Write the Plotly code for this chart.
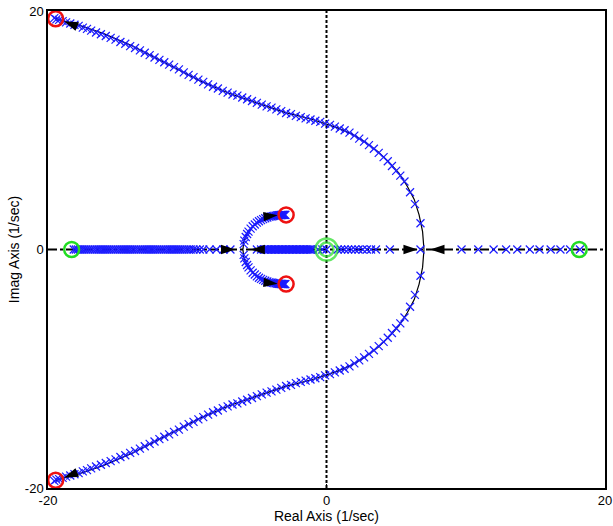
import plotly.graph_objects as go

# ---------------------------------------------------------------
# Root locus data
# ---------------------------------------------------------------

# large complex branch (upper half), from the breakaway point on the real axis to the pole
big_line_x = [7.0, 6.9, 6.65, 6.3, 5.8, 5.2, 4.5, 3.7, 2.8, 1.8, 0.8, 0.0, -1.0, -2.0, -3.0,
              -4.0, -5.0, -6.0, -7.0, -8.0, -9.0, -10.0, -11.0, -12.0, -13.0, -14.0, -15.0,
              -16.0, -17.0, -18.0, -19.0, -19.5]
big_line_y = [0.0, 1.5, 2.9, 4.2, 5.3, 6.4, 7.3, 8.2, 9.0, 9.7, 10.2, 10.5, 10.9, 11.2, 11.5,
              11.9, 12.3, 12.7, 13.1, 13.6, 14.1, 14.7, 15.3, 15.9, 16.5, 17.1, 17.6,
              18.1, 18.5, 18.9, 19.2, 19.4]

big_mark_x = [6.75, 6.35, 6.0, 5.6, 5.3, 5.0, 4.7, 4.4, 4.1, 3.75, 3.4, 3.05, 2.7, 2.35, 2.0,
              1.65, 1.3, 0.95, 0.6, 0.25, -0.1, -0.45, -0.8, -1.15, -1.5, -1.85, -2.2, -2.55,
              -2.9, -3.25, -3.6, -3.95, -4.3, -4.65, -5.0, -5.35, -5.7, -6.05, -6.4, -6.75,
              -7.1, -7.45, -7.8, -8.15, -8.5, -8.85, -9.2, -9.55, -9.9, -10.25, -10.6, -10.95,
              -11.3, -11.65, -12.0, -12.35, -12.7, -13.05, -13.4, -13.75, -14.1, -14.45, -14.8,
              -15.15, -15.5, -15.85, -16.2, -16.55, -16.9, -17.2, -17.5, -17.8, -18.1, -18.4,
              -18.7, -18.95, -19.2, -19.4, -19.55]
big_mark_y = [2.2, 3.8, 4.8, 5.7, 6.2, 6.6, 7.0, 7.4, 7.75, 8.1, 8.45, 8.75, 9.05, 9.3, 9.55,
              9.8, 10.0, 10.15, 10.3, 10.45, 10.55, 10.7, 10.8, 10.9, 11.0, 11.1, 11.2, 11.35,
              11.45, 11.6, 11.75, 11.9, 12.0, 12.15, 12.3, 12.45, 12.6, 12.75, 12.9, 13.0,
              13.15, 13.3, 13.5, 13.65, 13.85, 14.05, 14.25, 14.45, 14.65, 14.85, 15.1, 15.3,
              15.5, 15.7, 15.9, 16.1, 16.3, 16.5, 16.7, 16.9, 17.05, 17.25, 17.4,
              17.6, 17.75, 17.9, 18.05, 18.2, 18.35, 18.5, 18.6, 18.75, 18.85, 18.95,
              19.05, 19.15, 19.25, 19.3, 19.4]

# small complex branch (upper half), from the breakaway point at -6 to the pole
arc_line_x = [-6.0, -5.95, -5.8, -5.6, -5.3, -5.0, -4.6, -4.2, -3.8, -3.4, -2.9]
arc_line_y = [0.0, 0.6, 1.1, 1.5, 1.9, 2.2, 2.45, 2.62, 2.75, 2.84, 2.9]
arc_mark_x = [-5.95, -5.9, -5.8, -5.7, -5.6, -5.45, -5.3, -5.15, -5.0, -4.85, -4.7, -4.55,
              -4.4, -4.25, -4.1, -3.95, -3.85, -3.75, -3.65, -3.55, -3.48, -3.42, -3.36,
              -3.3, -3.25, -3.2, -3.15, -3.1, -3.05, -3.0, -2.95]
arc_mark_y = [0.45, 0.75, 1.05, 1.3, 1.5, 1.75, 1.95, 2.1, 2.25, 2.37, 2.47, 2.55,
              2.62, 2.68, 2.73, 2.77, 2.8, 2.82, 2.84, 2.85, 2.86, 2.87, 2.88,
              2.88, 2.89, 2.89, 2.9, 2.9, 2.9, 2.9, 2.9]

# locus points lying on the real axis
real_mark_x = [-18.15, -18.0, -17.85, -17.7, -17.55, -17.4, -17.25, -17.1, -16.95, -16.8,
               -16.65, -16.5, -16.35, -16.2, -16.05, -15.9, -15.75, -15.6, -15.45, -15.3,
               -15.15, -15.0, -14.85, -14.7, -14.55, -14.4, -14.25, -14.1, -13.95, -13.8,
               -13.65, -13.5, -13.35, -13.2, -13.05, -12.9, -12.75, -12.6, -12.45, -12.3,
               -12.15, -12.0, -11.85, -11.7, -11.55, -11.4, -11.25, -11.1, -10.95, -10.8,
               -10.65, -10.5, -10.35, -10.2, -10.05, -9.9, -9.75, -9.55, -9.35, -9.1,
               -8.85, -8.4, -7.9, -7.4, -6.9,
               -5.0, -4.7, -4.5, -4.4, -4.3, -4.2, -4.1, -4.0, -3.9, -3.8, -3.7, -3.6, -3.5,
               -3.4, -3.3, -3.2, -3.1, -3.0, -2.9, -2.8, -2.7, -2.6, -2.5, -2.4, -2.3, -2.2,
               -2.1, -2.0, -1.9, -1.8, -1.7, -1.6, -1.5, -1.4, -1.3, -1.2, -1.1, -1.0,
               -0.6, -0.3, 0.0,
               0.8, 1.05, 1.3, 1.55, 1.8, 2.05, 2.3, 2.6, 2.9, 3.2, 3.55, 4.55, 6.75,
               9.7, 10.9, 12.0, 12.9, 13.7, 14.6, 15.3, 16.1, 16.8, 17.5, 18.2]

# poles (red) and zeros (green)
pole_x = [-19.45, -19.45, -2.9, -2.9]
pole_y = [19.35, -19.35, 2.9, -2.9]
zero_x = [-18.3, 18.15]
zero_y = [0.0, 0.0]
origin_x = [0.0]
origin_y = [0.0]

# direction arrows
arrow_x = [-18.85, -18.85, -3.5, -3.5, -6.55, -5.45, 6.55, 7.45]
arrow_y = [19.15, -19.15, 2.87, -2.87, 0.0, 0.0, 0.0, 0.0]
arrow_angle = [-68, -112, 85, 95, 90, -90, 90, -90]

BLUE = "#1a1aff"
fig = go.Figure()

# axis guide lines
fig.add_trace(go.Scatter(x=[-20, 20], y=[0, 0], mode="lines",
                         line=dict(color="black", width=2, dash="dashdot"), hoverinfo="skip"))
fig.add_trace(go.Scatter(x=[0, 0], y=[-20, 20], mode="lines",
                         line=dict(color="black", width=2, dash="3px,2px"), hoverinfo="skip"))

# locus lines (upper and lower = conjugates)
for sgn in (1, -1):
    fig.add_trace(go.Scatter(x=big_line_x, y=[sgn * v for v in big_line_y], mode="lines",
                             line=dict(color="black", width=1.2), hoverinfo="skip"))
    fig.add_trace(go.Scatter(x=arc_line_x, y=[sgn * v for v in arc_line_y], mode="lines",
                             line=dict(color="black", width=1.2), hoverinfo="skip"))

# blue locus samples
xmark = dict(symbol="x-thin", size=8, line=dict(color=BLUE, width=1.2), color=BLUE)
for sgn in (1, -1):
    fig.add_trace(go.Scatter(x=big_mark_x, y=[sgn * v for v in big_mark_y], mode="markers",
                             marker=xmark))
    fig.add_trace(go.Scatter(x=arc_mark_x, y=[sgn * v for v in arc_mark_y], mode="markers",
                             marker=xmark))
fig.add_trace(go.Scatter(x=real_mark_x, y=[0] * len(real_mark_x), mode="markers", marker=xmark))

# arrowheads
fig.add_trace(go.Scatter(x=arrow_x, y=arrow_y, mode="markers",
                         marker=dict(symbol="arrow", size=15, angle=arrow_angle, color="black",
                                     line=dict(width=0))))

# poles / zeros
fig.add_trace(go.Scatter(x=pole_x, y=pole_y, mode="markers",
                         marker=dict(symbol="circle-open", size=15, color="#ee1111",
                                     line=dict(width=2.5))))
fig.add_trace(go.Scatter(x=zero_x, y=zero_y, mode="markers",
                         marker=dict(symbol="circle-open", size=15, color="#22dd22",
                                     line=dict(width=2.5))))
fig.add_trace(go.Scatter(x=origin_x * 2, y=origin_y * 2, mode="markers",
                         marker=dict(symbol="circle-open", size=[22, 14], color="#22dd22",
                                     line=dict(width=2.5))))

fig.update_layout(
    width=613, height=526,
    margin=dict(l=48, r=8, t=11, b=38),
    plot_bgcolor="white", paper_bgcolor="white",
    showlegend=False,
    font=dict(family="Liberation Sans, Arial, sans-serif", size=12, color="black"),
)
axis_common = dict(range=[-20, 20], showgrid=False, zeroline=False, automargin=False,
                   showline=True, linecolor="black", linewidth=1.5, mirror=True,
                   ticks="inside", ticklen=4, tickcolor="black",
                   tickvals=[-20, 0, 20], ticktext=["-20", "0", "20"],
                   tickfont=dict(size=13))
fig.update_xaxes(**axis_common, title=dict(text="Real Axis (1/sec)", standoff=2))
fig.update_yaxes(**axis_common, title=dict(text="Imag Axis (1/sec)", standoff=2))

# the page body has a default 8px margin; remove it so the figure sits at the corner
fig.write_html("out.html", config={"displayModeBar": False},
               post_script="document.body.style.margin='0';")
